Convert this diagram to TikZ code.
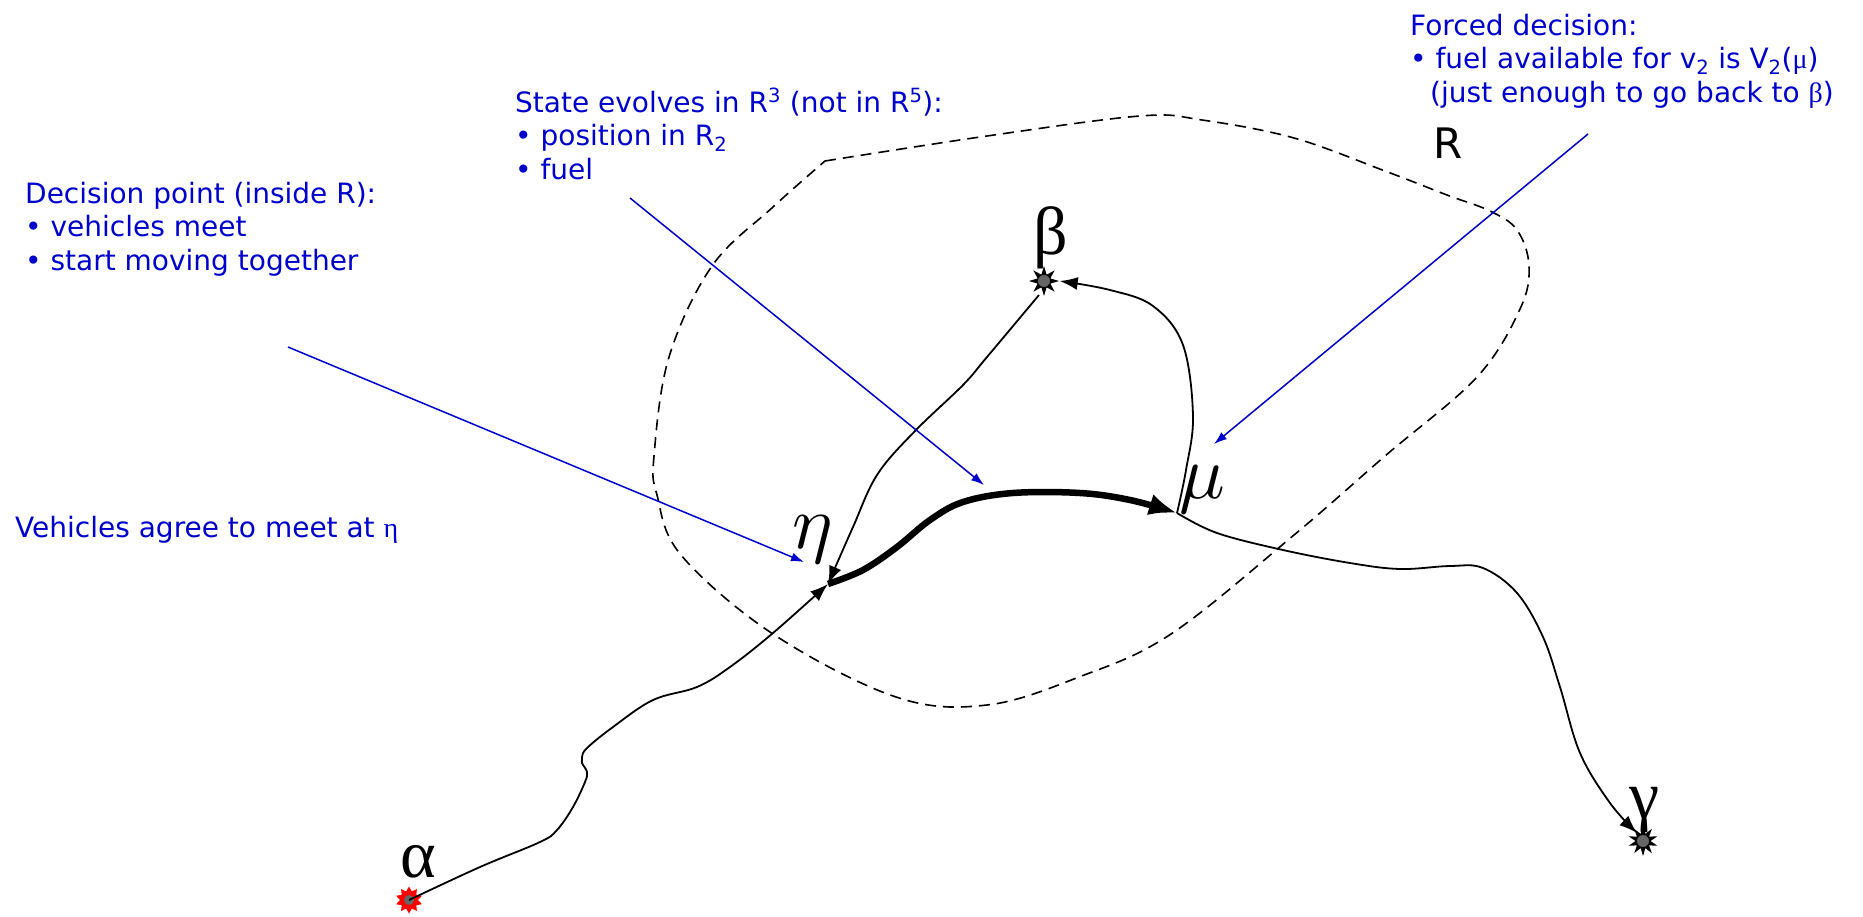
\documentclass[tikz,border=0pt]{standalone}
\usepackage{graphicx}
\usepackage{fontspec}
\setmainfont{DejaVu Sans}
\newfontfamily\grk{Liberation Serif}
\usetikzlibrary{arrows.meta,shapes.geometric}
\definecolor{tblue}{RGB}{0,0,204}
\newcommand{\mylines}[1]{\vtop{\baselineskip=33.5pt\lineskiplimit=-100pt\lineskip=0pt #1}}
\newcommand{\bigmath}[1]{\scalebox{7.6}{$#1$}}
\begin{document}
\begin{tikzpicture}[x=1pt,y=-1pt,
  note/.style={text=tblue, inner sep=0, anchor=base west, font=\fontsize{28}{33.5}\selectfont},
  bigsym/.style={inner sep=0, font=\grk\fontsize{68}{68}\selectfont},
  mathsym/.style={inner sep=0},
  thin/.style={line width=1.8pt, -{Latex[length=18pt,width=13pt]}},
  thick/.style={line width=6.5pt, -{Latex[length=28pt,width=22pt]}},
  pointer/.style={draw=tblue, line width=1.5pt, -{Latex[length=13pt,width=9pt]}},
  region/.style={line width=1.6pt, dash pattern=on 11pt off 7pt},
  starmark/.style={star, fill=black, inner sep=0, minimum size=30pt, star point ratio=2.2},
  core/.style={fill=gray!80!black, draw=black, line width=0.8pt},
]
\useasboundingbox (0,0) rectangle (1863,916);

% region R
\draw[region] plot[smooth, tension=0.6] coordinates {
  (825,161) (987,136) (1140,116) (1202,120) (1294,138) (1385,171) (1447,195) (1490,211)
  (1517,230) (1529,266) (1520,309) (1477,377) (1385,456) (1294,535) (1171,634)
  (1079,677) (987,705) (896,697) (773,634) (681,555) (657,495) (654,456) (669,357)
  (712,266) (773,207) (825,161)};
\node[anchor=base west, inner sep=0, font=\fontsize{42}{42}\selectfont] (Rlabel) at (1433,158) {R};

% points
\coordinate (eta) at (828,584);
\coordinate (mu) at (1177,513);
\coordinate (gin) at (1637,833);
\node[starmark, star points=10, star point ratio=1.5, fill=red, minimum size=27pt] (alphastar) at (409,900) {};
\fill[gray!80!black] (alphastar.center) circle (5pt);
\node[starmark, star points=8] (betastar) at (1044,281) {};
\draw[core] (betastar.center) circle (6.5pt);
\node[starmark, star points=10, star point ratio=2] (gammastar) at (1643,841) {};
\draw[core] (gammastar.center) circle (6.5pt);

% labels
\node[bigsym] (alphalabel) at (418,862) {α};
\node[bigsym] (betalabel) at (1051,238) {β};
\node[bigsym] (gammalabel) at (1645,810) {γ};
\node[mathsym] (etalabel) at (813,540) {\bigmath{\eta}};
\node[mathsym] (mulabel) at (1202,490) {\bigmath{\mu}};

% trajectories
\draw[thin] plot[smooth, tension=0.6] coordinates {(alphastar.center) (480,867) (540,842) (557,830)
  (573,807) (585,782) (587,772) (582,763) (582,757) (587,748) (613,727) (653,700) (697,687)
  (730,667) (773,633) (eta)};
\draw[thin] plot[smooth, tension=0.6] coordinates {(1039,295) (987,357) (963,385) (914,432)
  (877,475) (853,527) (eta)};
\draw[thin] plot[smooth, tension=0.6] coordinates {(mu) (1186,470) (1193,416) (1183,345)
  (1153,306) (1110,290) (betastar.east)};
\draw[thick] plot[smooth, tension=0.6] coordinates {(eta) (863,570) (897,547) (930,520)
  (963,502) (1013,493) (1080,493) (1130,500) (mu)};
\draw[thin] plot[smooth, tension=0.6] coordinates {(mu) (1217,533) (1283,550) (1350,563)
  (1400,569) (1450,566) (1483,568) (1517,593) (1543,637) (1560,687) (1580,753) (1610,803) (gin)};

% notes
\node[note] (decision) at (25,203) {\mylines{\hbox{Decision point (inside R):}\hbox{• vehicles meet}\hbox{• start moving together}}};
\node[note] (state) at (515,112) {\mylines{\hbox{State evolves in R\textsuperscript{3} (not in R\textsuperscript{5}):}\hbox{• position in R\textsubscript{2}}\hbox{• fuel}}};
\node[note] (forced) at (1410,35) {\mylines{\hbox{Forced decision:}\hbox{• fuel available for v\textsubscript{2} is V\textsubscript{2}({\grk μ})}\hbox{\kern20pt(just enough to go back to {\grk β})}}};
\node[note] (agree) at (15,537) {Vehicles agree to meet at {\grk η}};

% pointers
\coordinate (p1s) at (288,347); \coordinate (p1e) at (804,562);
\coordinate (p2s) at (630,198); \coordinate (p2e) at (984,485);
\coordinate (p3s) at (1588,134); \coordinate (p3e) at (1214,444);
\draw[pointer] (p1s) -- (p1e);
\draw[pointer] (p2s) -- (p2e);
\draw[pointer] (p3s) -- (p3e);
\end{tikzpicture}
\end{document}
